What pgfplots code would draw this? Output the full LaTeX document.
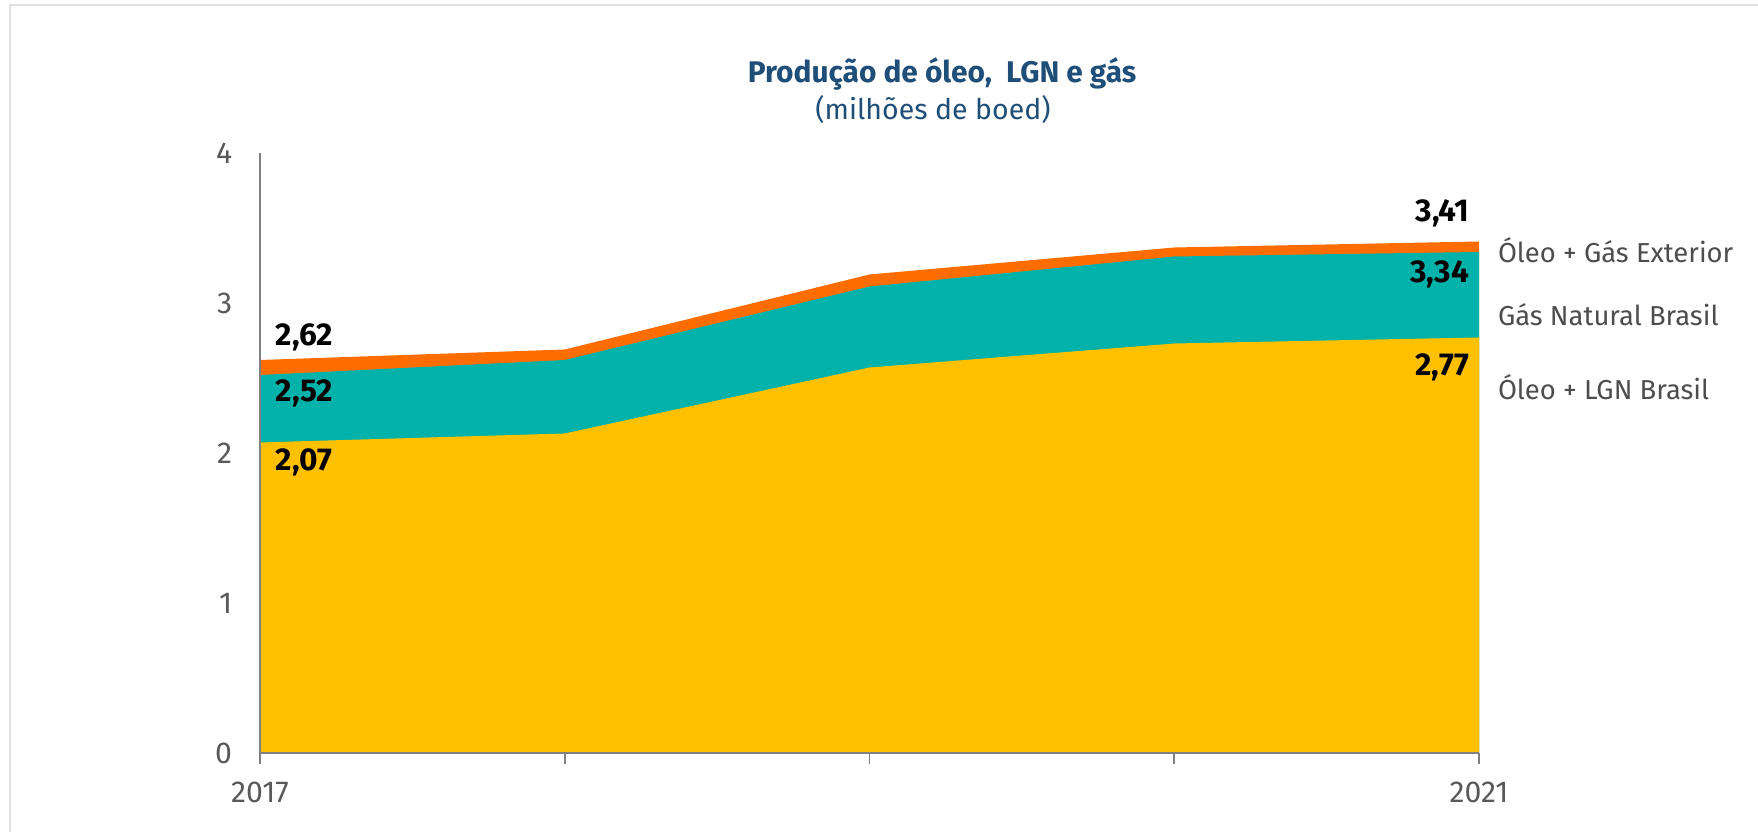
\documentclass[border=0pt]{standalone}
\usepackage{fontspec}
\setmainfont{Fira Sans}
\usepackage{pgfplots}
\pgfplotsset{compat=1.18}
\definecolor{cOil}{HTML}{FFC000}
\definecolor{cGas}{HTML}{00B2A9}
\definecolor{cExt}{HTML}{FF6D00}
\definecolor{cTitle}{HTML}{1F4E79}
\definecolor{cAxis}{HTML}{808080}
\definecolor{cTick}{HTML}{595959}
\definecolor{cLab}{HTML}{4D4D4D}
\begin{document}
\begin{tikzpicture}
\path[use as bounding box] (0,0) rectangle (17.58,8.32);
\draw[color=black!12, line width=0.3pt] (0.1,0) -- (0.1,8.27) -- (17.58,8.27);
\node[font=\fontsize{8.5}{10}\selectfont\bfseries, text=cTitle] at (9.42,7.58) {Produção de óleo,\ \ LGN e gás};
\node[font=\fontsize{8.1}{10}\selectfont, text=cTitle] at (9.33,7.22) {(milhões de boed)};
\begin{axis}[
  at={(2.60cm,0.79cm)}, anchor=south west,
  scale only axis, width=12.19cm, height=6.00cm,
  xmin=0, xmax=4, ymin=0, ymax=4,
  axis x line=bottom, axis y line=left,
  axis line style={draw=cAxis, line width=0.8pt, -},
  xtick={0,1,2,3,4}, xticklabels={2017,,,,2021},
  ytick={0,1,2,3,4},
  x tick style={draw=cAxis, line width=0.5pt},
  major tick length=1.1mm,
  xtick align=outside,
  y tick style={draw=none},
  tick label style={font=\fontsize{8.6}{10}\selectfont, text=cTick},
  xticklabel style={yshift=-0.6mm},
  yticklabel style={xshift=-1.0mm},
  /pgf/number format/assume math mode=true,
  clip=false,
]
% cumulative totals (Oleo + Gas Exterior on top)
\addplot[draw=none, fill=cExt] coordinates {(0,2.62) (1,2.69) (2,3.19) (3,3.37) (4,3.41)} \closedcycle;
% Oleo + LGN Brasil + Gas Natural Brasil
\addplot[draw=none, fill=cGas] coordinates {(0,2.52) (1,2.62) (2,3.11) (3,3.31) (4,3.34)} \closedcycle;
% Oleo + LGN Brasil
\addplot[draw=none, fill=cOil] coordinates {(0,2.07) (1,2.13) (2,2.57) (3,2.73) (4,2.77)} \closedcycle;
\draw[cAxis, line width=0.8pt] (axis cs:0,0) -- (axis cs:4,0);
\draw[cAxis, line width=0.8pt] (axis cs:0,0) -- (axis cs:0,4);
\begin{scope}[font=\fontsize{9}{10}\selectfont\bfseries]
\node[anchor=west, inner sep=0pt] at (axis cs:0.05,2.77) {2,62};
\node[anchor=west, inner sep=0pt] at (axis cs:0.05,2.40) {2,52};
\node[anchor=west, inner sep=0pt] at (axis cs:0.05,1.94) {2,07};
\node[anchor=east, inner sep=0pt] at (axis cs:3.97,3.60) {3,41};
\node[anchor=east, inner sep=0pt] at (axis cs:3.97,3.19) {3,34};
\node[anchor=east, inner sep=0pt] at (axis cs:3.97,2.57) {2,77};
\end{scope}
\begin{scope}[font=\fontsize{7.8}{10}\selectfont, text=cLab]
\node[anchor=west, inner sep=0pt] at (axis cs:4.06,3.35) {Óleo + Gás Exterior};
\node[anchor=west, inner sep=0pt] at (axis cs:4.06,2.92) {Gás Natural Brasil};
\node[anchor=west, inner sep=0pt] at (axis cs:4.06,2.44) {Óleo + LGN Brasil};
\end{scope}
\end{axis}
\end{tikzpicture}
\end{document}
